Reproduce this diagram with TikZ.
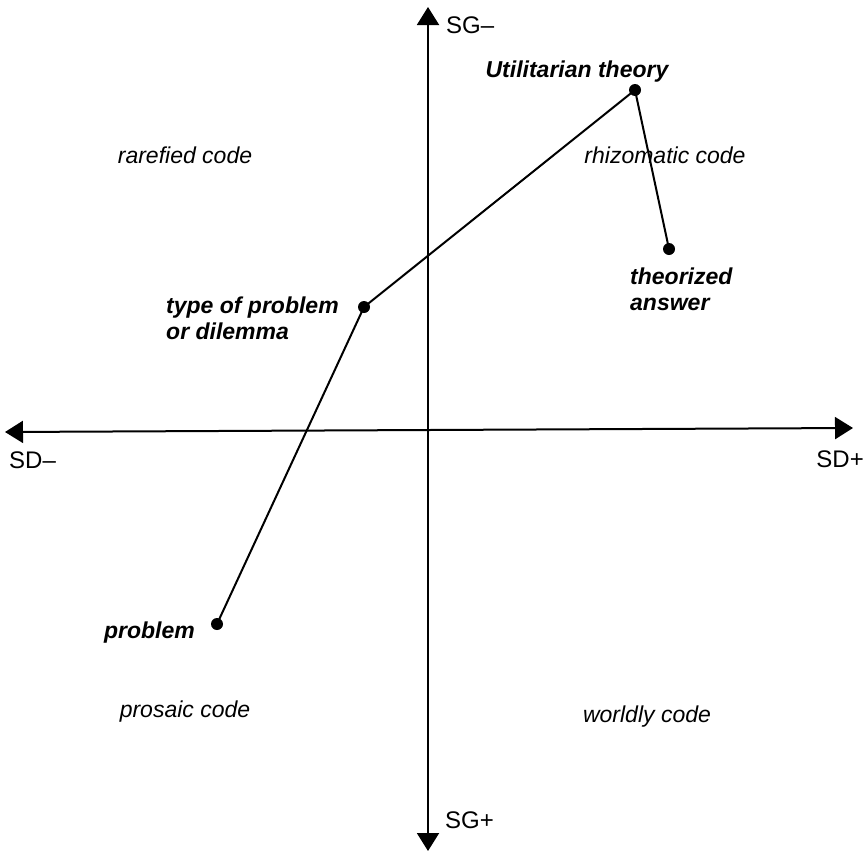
\documentclass[tikz,border=0pt]{standalone}
\usepackage{fontspec}
\setmainfont{Liberation Sans}
\usetikzlibrary{arrows.meta}
\begin{document}
\begin{tikzpicture}[x=1pt,y=-1pt,
  axis/.style={line width=2pt,{Triangle[length=18pt,width=22pt]}-{Triangle[length=18pt,width=22pt]}},
  conn/.style={line width=2pt},
  dot/.style={circle,fill=black,inner sep=0pt,minimum size=12pt},
  lbl/.style={inner sep=0pt,font=\fontsize{24}{27}\selectfont},
  code/.style={lbl,font=\fontsize{23}{26}\selectfont\itshape,anchor=base},
  pt/.style={lbl,font=\fontsize{23}{26}\selectfont\bfseries\itshape,align=left}]
\useasboundingbox (0,0) rectangle (867,854);
% axes
\coordinate (top) at (428,7);
\coordinate (bot) at (428,851);
\coordinate (lft) at (5,432);
\coordinate (rgt) at (853,428);
\draw[axis] (top) -- (bot);
\draw[axis] (lft) -- (rgt);
\node[lbl,anchor=base west] (sgm) at (446,33) {SG–};
\node[lbl,anchor=base west] (sgp) at (445,828) {SG+};
\node[lbl,anchor=base west] (sdm) at (9,468) {SD–};
\node[lbl,anchor=base east] (sdp) at (864,467) {SD+};
% codes
\node[code] (rare) at (185,163) {rarefied code};
\node[code] (rhiz) at (665,163) {rhizomatic code};
\node[code] (pros) at (185,717) {prosaic code};
\node[code] (world) at (647,722) {worldly code};
% points
\node[dot] (u) at (635,90) {};
\node[dot] (a) at (669,249) {};
\node[dot] (t) at (364,307) {};
\node[dot] (p) at (217,624) {};
\draw[conn] (p.center) -- (t.center) -- (u.center) -- (a.center);
% point labels
\node[pt,anchor=base] (ul) at (577,77) {Utilitarian theory};
\node[pt,anchor=west] (al) at (630,289) {theorized\\answer};
\node[pt,anchor=west] (tl) at (166,318) {type of problem\\or dilemma};
\node[pt,anchor=base east] (pl) at (195,638) {problem};
\end{tikzpicture}
\end{document}
